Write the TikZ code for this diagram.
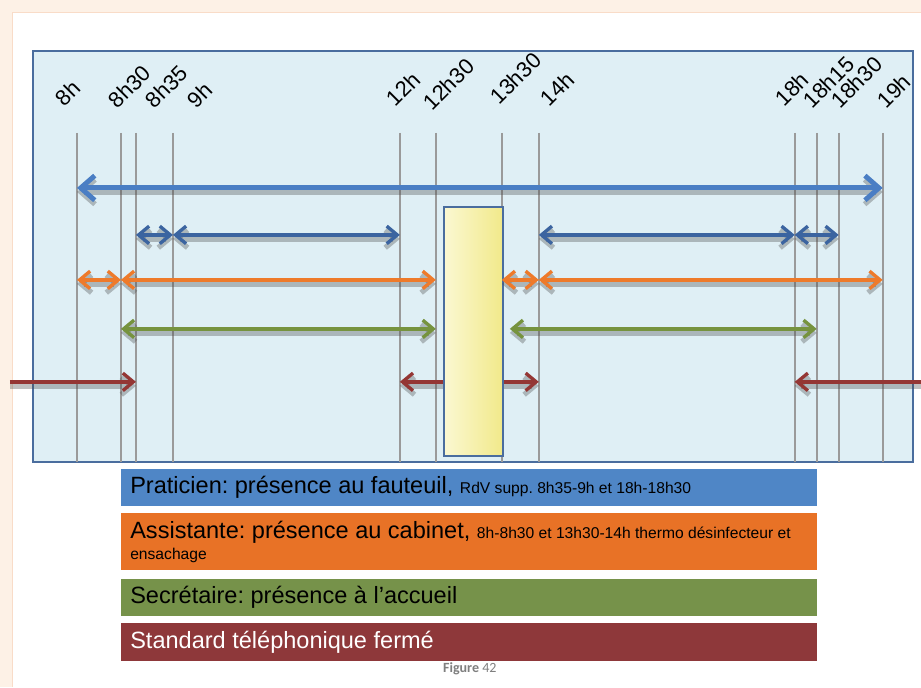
\documentclass[tikz,border=0pt]{standalone}
\usepackage{fontspec}
\setmainfont{Liberation Sans}
\newfontfamily\capfont{Carlito}
\usetikzlibrary{arrows.meta}
\definecolor{peach}{HTML}{FDF1E6}
\definecolor{peachline}{HTML}{F9DCC8}
\definecolor{framefill}{HTML}{DFEFF5}
\definecolor{frameedge}{HTML}{4A6D9E}
\definecolor{tickgray}{HTML}{9A9A9A}
\definecolor{bigblue}{HTML}{4A7EC4}
\definecolor{darkblue}{HTML}{3B64A0}
\definecolor{arrorange}{HTML}{EE7A2A}
\definecolor{arrgreen}{HTML}{76933E}
\definecolor{arrred}{HTML}{943634}
\definecolor{legblue}{HTML}{4F86C6}
\definecolor{legorange}{HTML}{E87226}
\definecolor{leggreen}{HTML}{76924A}
\definecolor{legred}{HTML}{8E383A}
\definecolor{pauselight}{HTML}{FBF8D2}
\definecolor{pausedark}{HTML}{F1E98A}
\definecolor{capgray}{HTML}{7F7F7F}
\frenchspacing

\begin{document}
\begin{tikzpicture}[x=0.02cm,y=-0.02cm]
\tikzstyle{every node}+=[inner sep=0pt]
\tikzstyle{tick}=[draw=tickgray,line width=1.1pt]
\tikzstyle{hour}=[anchor=south west,rotate=45,font=\fontsize{12.5}{14}\selectfont]
\tikzstyle{shadow}=[preaction={draw=black!70,opacity=0.35,line width=3pt,transform canvas={yshift=-0.08cm}}]
\tikzstyle{span}=[shadow,{Straight Barb[length=6pt,width=10pt]}-{Straight Barb[length=6pt,width=10pt]},line width=1.9pt]
\tikzstyle{oneway}=[shadow,-{Straight Barb[length=6pt,width=10pt]},line width=1.9pt]
\tikzstyle{legend}=[anchor=north west,text width=13.56cm,inner xsep=0.18cm,align=flush left,font=\fontsize{13.4}{12}\selectfont]
\fill [peach] (0,0) rectangle (921,687);
\fill [white] (12,12) rectangle (921,687);
\draw [peachline] (12,687) -- (12,12) -- (921,12);
\useasboundingbox (0,0) rectangle (921,687);
\filldraw [fill=framefill,draw=frameedge,line width=1.2pt] (33,51) rectangle (913,462);
\coordinate (base) at (0,462);
\coordinate (t800) at (77,133);
\coordinate (t830) at (121,133);
\coordinate (t835) at (136,133);
\coordinate (t900) at (173,133);
\coordinate (t1200) at (400,133);
\coordinate (t1230) at (436,133);
\coordinate (t1330) at (502,133);
\coordinate (t1400) at (539,133);
\coordinate (t1800) at (795,133);
\coordinate (t1815) at (817,133);
\coordinate (t1830) at (839,133);
\coordinate (t1900) at (883,133);
\foreach \t in {t800,t830,t835,t900,t1200,t1230,t1330,t1400,t1800,t1815,t1830,t1900}
  \draw [tick] (\t) -- (\t |- base);
\node [hour] (l800) at (65,108) {8h};
\node [hour] (l830) at (118,110) {8h30};
\node [hour] (l835) at (155,110) {8h35};
\node [hour] (l900) at (197,110) {9h};
\node [hour] (l1200) at (396,108) {12h};
\node [hour] (l1230) at (433,112) {12h30};
\node [hour] (l1330) at (500,106) {13h30};
\node [hour] (l1400) at (550,108) {14h};
\node [hour] (l1800) at (785,108) {18h};
\node [hour] (l1815) at (813,110) {18h15};
\node [hour] (l1830) at (841,110) {18h30};
\node [hour] (l1900) at (887,110) {19h};
\node [draw=frameedge,line width=1.2pt,left color=pauselight,right color=pausedark,anchor=north west,minimum width=1.18cm,minimum height=4.98cm] (pause) at (443,206) {};
\coordinate (rowA) at (0,188);
\coordinate (rowB) at (0,235);
\coordinate (rowC) at (0,280);
\coordinate (rowD) at (0,329);
\coordinate (rowE) at (0,382);
\coordinate (redin) at (10,382);
\coordinate (redout) at (921,382);
\coordinate (green2) at (510,329);
\draw [shadow,bigblue,line width=2.8pt,{Straight Barb[length=8pt,width=14pt]}-{Straight Barb[length=8pt,width=14pt]}] (t800 |- rowA) -- (t1900 |- rowA);
\draw [span,darkblue] (t835 |- rowB) -- (t900 |- rowB);
\draw [span,darkblue] (t900 |- rowB) -- (t1200 |- rowB);
\draw [span,darkblue] (t1400 |- rowB) -- (t1800 |- rowB);
\draw [span,darkblue] (t1800 |- rowB) -- (t1830 |- rowB);
\draw [span,arrorange] (t800 |- rowC) -- (t830 |- rowC);
\draw [span,arrorange] (t830 |- rowC) -- (t1230 |- rowC);
\draw [span,arrorange] (t1330 |- rowC) -- (t1400 |- rowC);
\draw [span,arrorange] (t1400 |- rowC) -- (t1900 |- rowC);
\draw [span,arrgreen] (t830 |- rowD) -- (t1230 |- rowD);
\draw [span,arrgreen] (green2) -- (t1815 |- rowD);
\draw [oneway,arrred] (redin) -- (t835 |- rowE);
\draw [oneway,arrred] (pause.west |- rowE) -- (t1200 |- rowE);
\draw [oneway,arrred] (pause.east |- rowE) -- (t1400 |- rowE);
\draw [oneway,arrred] (redout) -- (t1800 |- rowE);
\node [legend,fill=legblue,minimum height=0.74cm] (praticien) at (121,469) {Praticien: présence au fauteuil, {\fontsize{8.9}{12}\selectfont RdV supp. 8h35-9h et 18h-18h30}};
\node [legend,fill=legorange,minimum height=1.14cm] (assistante) at (121,513) {Assistante: présence au cabinet, {\fontsize{8.9}{12}\selectfont 8h-8h30 et 13h30-14h thermo désinfecteur et\\ensachage}};
\node [legend,fill=leggreen,minimum height=0.74cm] (secretaire) at (121,579) {Secrétaire: présence à l’accueil};
\node [legend,fill=legred,text=white,minimum height=0.76cm] (standard) at (121,623) {Standard téléphonique fermé};
\node (caption) at (470,669) {\capfont\fontsize{8}{9}\selectfont\color{capgray}\textbf{Figure} 42};
\end{tikzpicture}
\end{document}
